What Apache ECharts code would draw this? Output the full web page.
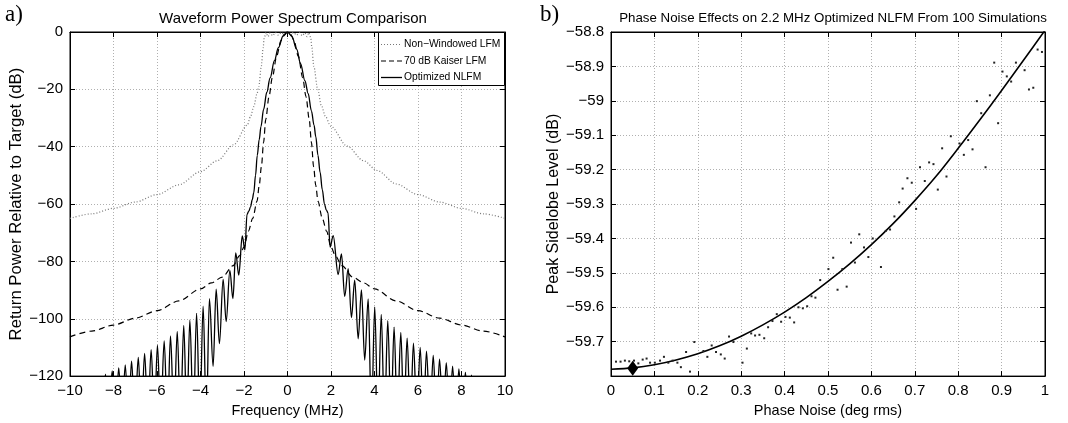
<!DOCTYPE html>
<html>
<head>
<meta charset="utf-8">
<script src="https://cdn.jsdelivr.net/npm/echarts@6/dist/echarts.min.js"></script>
<style>
html,body{margin:0;padding:0;background:#fff;}
#chart{width:1068px;height:423px;}
</style>
</head>
<body>
<div id="chart"></div>
<script>
// ---------- Panel a) Waveform Power Spectrum Comparison ----------
const lfmFreq = [-10,-9,-8,-7,-6,-5,-4,-3.23,-2.47,-1.85,-1.7,-1.55,-1.4,-1.32,-1.21,-1.12,-1.07,-0.98,-0.9,-0.8,-0.68,-0.55,-0.42,-0.28,-0.14,0,0.14,0.28,0.42,0.55,0.68,0.8,0.9,0.98,1.07,1.12,1.21,1.39,1.55,1.75,1.98,2.74,3.5,4.12,5,6,7,8,9,10];
const lfmDb   = [-65,-63.4,-61.5,-59.3,-56.7,-53.3,-48.7,-44.9,-39.3,-32.5,-29.5,-26,-21.5,-19,-12.3,-5.5,-2,-0.2,-1.6,-0.3,-1.3,-0.2,-1.1,-0.2,-0.9,-0.2,-0.9,-0.2,-1.1,-0.2,-1.3,-0.3,-1.6,-0.2,-2,-5.5,-12,-20,-25.5,-29.5,-32.8,-39.8,-44.9,-48.3,-53,-56.7,-59.3,-61.5,-63.4,-65];

const kaiserFreq = [-10,-9,-8,-7,-6,-5,-4,-3.5,-3,-2.5,-2.2,-2,-1.8,-1.6,-1.4,-1.3,-1.2,-1.1,-1,-0.85,-0.7,-0.5,-0.3,-0.15,0,0.15,0.3,0.5,0.7,0.85,1,1.1,1.2,1.3,1.4,1.6,1.8,2,2.2,2.5,3,3.5,4,5,6,7,8,9,10];
const kaiserDb   = [-106.3,-104.3,-102.2,-99.8,-97.2,-93.8,-89.6,-87.5,-85.5,-81.5,-78,-75,-69.5,-65,-59,-53.5,-47,-38.5,-30.5,-22.5,-16,-8.5,-3,-0.8,0,-0.8,-3,-8.5,-16,-22.5,-30.5,-38.5,-47,-53.5,-59,-65,-69.5,-75,-78,-81.5,-85.5,-87.5,-89.6,-93.8,-97.2,-99.8,-102.2,-104.3,-106.3];

const nlfmFreq = [-8.6,-8.52,-8.37,-8.22,-8.06,-7.91,-7.76,-7.61,-7.46,-7.31,-7.17,-7.02,-6.86,-6.72,-6.57,-6.42,-6.27,-6.12,-5.98,-5.83,-5.67,-5.52,-5.38,-5.22,-5.07,-4.92,-4.77,-4.63,-4.49,-4.33,-4.18,-4.03,-3.88,-3.73,-3.59,-3.42,-3.28,-3.13,-2.96,-2.82,-2.65,-2.51,-2.38,-2.24,-2.08,-1.96,-1.86,-1.78,-1.7,-1.62,-1.55,-1.47,-1.39,-1.3,-1.22,-1.1,-0.95,-0.8,-0.6,-0.42,-0.2,0,0.2,0.42,0.6,0.8,0.95,1.1,1.22,1.3,1.4,1.5,1.6,1.7,1.78,1.86,1.96,2.1,2.33,2.48,2.63,2.79,2.94,3.09,3.25,3.4,3.55,3.71,3.86,4.01,4.16,4.31,4.46,4.61,4.76,4.9,5.05,5.21,5.35,5.5,5.65,5.79,5.95,6.1,6.25,6.39,6.55,6.7,6.85,6.99,7.15,7.3,7.45,7.59,7.74,7.88,8.03,8.18,8.32,8.46,8.6];
const nlfmDb   = [-135,-135,-119.3,-135,-118.2,-135,-117.1,-135,-116.1,-135,-114.8,-135,-113.5,-135,-112.1,-135,-110.8,-135,-109.2,-135,-107.7,-135,-106,-135,-104.4,-135,-102.3,-135,-100.5,-135,-98.1,-135,-95.6,-135,-93,-116.6,-89.7,-108.7,-86.3,-101,-83.1,-93,-77,-84.8,-71.1,-76,-63.5,-62.5,-61,-58.5,-56,-50,-43,-37.5,-33,-27,-21,-16,-10,-5.5,-1.4,0,-1.5,-6,-11,-17,-21.5,-27.5,-32.5,-36.5,-43,-49,-55,-60,-62,-63,-75,-71,-84.6,-77.4,-92.2,-82.5,-99.6,-86.5,-107,-89.9,-114.4,-93.1,-135,-95.9,-135,-98.5,-135,-100.7,-135,-102.9,-135,-104.8,-135,-106.8,-135,-108.5,-135,-110,-135,-111.3,-135,-112.8,-135,-114.1,-135,-115.3,-135,-116.5,-135,-117.5,-135,-118.7,-135,-119.7,-135];

const legendNames = ['Non\u2212Windowed LFM', '70 dB Kaiser LFM', 'Optimized NLFM'];

// ---------- Panel b) Phase Noise Effects ----------
const fitPhase = [0,0.05,0.1,0.15,0.2,0.25,0.3,0.35,0.4,0.45,0.5,0.55,0.6,0.65,0.7,0.75,0.8,0.85,0.9,0.95,1.0];
const fitPsl   = [-59.78,-59.776,-59.767,-59.753,-59.735,-59.712,-59.684,-59.651,-59.614,-59.572,-59.525,-59.474,-59.418,-59.357,-59.29,-59.218,-59.138,-59.055,-58.97,-58.883,-58.795];

const simPhase = [0.0115,0.022,0.032,0.042,0.053,0.063,0.073,0.082,0.09,0.101,0.113,0.122,0.132,0.142,0.153,0.161,0.173,0.182,0.192,0.213,0.222,0.232,0.242,0.253,0.262,0.272,0.282,0.303,0.313,0.323,0.332,0.342,0.353,0.362,0.372,0.382,0.392,0.402,0.412,0.422,0.432,0.442,0.452,0.462,0.471,0.482,0.501,0.512,0.522,0.533,0.543,0.553,0.562,0.572,0.583,0.593,0.603,0.622,0.633,0.643,0.653,0.664,0.672,0.683,0.693,0.703,0.712,0.723,0.733,0.743,0.753,0.763,0.773,0.783,0.803,0.813,0.823,0.833,0.843,0.853,0.863,0.873,0.883,0.892,0.902,0.912,0.922,0.933,0.953,0.963,0.973,0.983,0.993];
const simPsl   = [-59.758,-59.758,-59.755,-59.757,-59.755,-59.763,-59.752,-59.749,-59.761,-59.761,-59.755,-59.744,-59.761,-59.755,-59.761,-59.774,-59.73,-59.787,-59.701,-59.727,-59.744,-59.711,-59.73,-59.737,-59.749,-59.685,-59.701,-59.761,-59.72,-59.676,-59.682,-59.68,-59.69,-59.658,-59.64,-59.62,-59.642,-59.628,-59.63,-59.644,-59.6,-59.603,-59.597,-59.568,-59.572,-59.521,-59.489,-59.456,-59.549,-59.489,-59.54,-59.412,-59.47,-59.388,-59.426,-59.454,-59.4,-59.483,-59.378,-59.374,-59.336,-59.295,-59.255,-59.225,-59.238,-59.314,-59.193,-59.233,-59.179,-59.184,-59.258,-59.138,-59.22,-59.103,-59.124,-59.157,-59.114,-59.141,-59.001,-59.036,-59.193,-58.984,-58.889,-59.065,-58.915,-58.929,-58.944,-58.889,-58.911,-58.967,-58.962,-58.851,-58.858];

const markerPhase = [0.05];
const markerPsl = [-59.777];

// ---------- build ----------
const zip = (a, b) => a.map((v, i) => [v, b[i]]);
const MINUS = '\u2212';
const fmt = v => {
  const r = Math.round(v * 10) / 10;
  return r < 0 ? MINUS + String(Math.abs(r)) : String(r);
};
const FONT = 'Liberation Sans';
const gridLine = {show: true, lineStyle: {color: '#b0b0b0', type: [1, 2], width: 1}};

function mainX(grid, min, max, interval, name, nameGap) {
  return {
    gridIndex: grid, type: 'value', min, max, interval, position: 'bottom',
    name, nameLocation: 'middle', nameGap,
    nameTextStyle: {color: '#000', fontSize: 14.5, fontFamily: FONT},
    axisLine: {onZero: false, lineStyle: {color: '#000', width: 1}},
    axisTick: {inside: true, length: 5, lineStyle: {color: '#000'}},
    axisLabel: {color: '#000', fontSize: 15, fontFamily: FONT, margin: 7, formatter: fmt},
    splitLine: gridLine
  };
}
function topX(grid, min, max, interval) {
  return {
    gridIndex: grid, type: 'value', min, max, interval, position: 'top',
    axisLine: {onZero: false, lineStyle: {color: '#000', width: 1}},
    axisTick: {inside: true, length: 5, lineStyle: {color: '#000'}},
    axisLabel: {show: false}, splitLine: {show: false}
  };
}
function mainY(grid, min, max, interval, name, nameGap, showMin, nameSize) {
  return {
    gridIndex: grid, type: 'value', min, max, interval, position: 'left',
    name, nameLocation: 'middle', nameGap,
    nameTextStyle: {color: '#000', fontSize: nameSize, fontFamily: FONT},
    axisLine: {onZero: false, lineStyle: {color: '#000', width: 1}},
    axisTick: {inside: true, length: 5, lineStyle: {color: '#000'}},
    axisLabel: {color: '#000', fontSize: 15, fontFamily: FONT, margin: 7, formatter: fmt, showMinLabel: showMin},
    splitLine: gridLine
  };
}
function rightY(grid, min, max, interval) {
  return {
    gridIndex: grid, type: 'value', min, max, interval, position: 'right',
    axisLine: {onZero: false, lineStyle: {color: '#000', width: 1}},
    axisTick: {inside: true, length: 5, lineStyle: {color: '#000'}},
    axisLabel: {show: false}, splitLine: {show: false}
  };
}

// hand-drawn legend box (line samples only, as in the reference)
const legendStyles = [
  {stroke: '#777', lineWidth: 1.2, lineDash: [1, 2]},
  {stroke: '#000', lineWidth: 1.2, lineDash: [5, 3]},
  {stroke: '#000', lineWidth: 1.3, lineDash: null}
];
const legendGraphics = [
  {type: 'rect', z: 100, shape: {x: 378.5, y: 32.5, width: 126, height: 53},
   style: {fill: '#fff', stroke: '#000', lineWidth: 1}}
];
legendNames.forEach((name, i) => {
  const y = 44.5 + i * 16.5;
  legendGraphics.push({type: 'line', z: 101, shape: {x1: 381, y1: y, x2: 402, y2: y}, style: legendStyles[i]});
  legendGraphics.push({type: 'text', z: 101, x: 404, y: y,
    style: {text: name, font: '10.3px "Liberation Sans"', fill: '#000', verticalAlign: 'middle', textVerticalAlign: 'middle'}});
});

const chart = echarts.init(document.getElementById('chart'), null, {renderer: 'canvas'});
chart.setOption({
  animation: false,
  backgroundColor: '#fff',
  textStyle: {fontFamily: FONT},
  title: [
    {text: 'Waveform Power Spectrum Comparison', left: 288, top: 6, textAlign: 'center',
     textStyle: {fontSize: 15, fontWeight: 'normal', color: '#000', fontFamily: FONT}},
    {text: 'Phase Noise Effects on 2.2 MHz Optimized NLFM From 100 Simulations', left: 828, top: 7, textAlign: 'center',
     textStyle: {fontSize: 13.3, fontWeight: 'normal', color: '#000', fontFamily: FONT}}
  ],
  graphic: [
    {type: 'text', left: 5, top: 3, style: {text: 'a)', font: '23px "Liberation Serif"', fill: '#000'}},
    {type: 'text', left: 540, top: 3, style: {text: 'b)', font: '23px "Liberation Serif"', fill: '#000'}}
  ].concat(legendGraphics),
  grid: [
    {left: 70, top: 32, width: 435, height: 351, show: true, borderColor: '#000', borderWidth: 1, backgroundColor: 'transparent'},
    {left: 611, top: 32, width: 434, height: 351, show: true, borderColor: '#000', borderWidth: 1, backgroundColor: 'transparent'}
  ],
  xAxis: [
    mainX(0, -10, 10, 2, 'Frequency (MHz)', 21),
    topX(0, -10, 10, 2),
    mainX(1, 0, 1, 0.1, 'Phase Noise (deg rms)', 21),
    topX(1, 0, 1, 0.1)
  ],
  yAxis: [
    mainY(0, -120, 0, 20, 'Return Power Relative to Target (dB)', 42, true, 16.7),
    rightY(0, -120, 0, 20),
    mainY(1, -59.8, -58.8, 0.1, 'Peak Sidelobe Level (dB)', 49, false, 16),
    rightY(1, -59.8, -58.8, 0.1)
  ],
  series: [
    {name: legendNames[0], type: 'line', xAxisIndex: 0, yAxisIndex: 0, data: zip(lfmFreq, lfmDb),
     showSymbol: false, symbol: 'none', smooth: 0.3, smoothMonotone: 'x', clip: true,
     lineStyle: {color: '#777', width: 1.2, type: [1, 2]}, itemStyle: {color: '#777'}, z: 2},
    {name: legendNames[1], type: 'line', xAxisIndex: 0, yAxisIndex: 0, data: zip(kaiserFreq, kaiserDb),
     showSymbol: false, symbol: 'none', smooth: 0.3, smoothMonotone: 'x', clip: true,
     lineStyle: {color: '#000', width: 1.2, type: [6, 4]}, itemStyle: {color: '#000'}, z: 3},
    {name: legendNames[2], type: 'line', xAxisIndex: 0, yAxisIndex: 0, data: zip(nlfmFreq, nlfmDb),
     showSymbol: false, symbol: 'none', smooth: 0.35, smoothMonotone: 'x', clip: true,
     lineStyle: {color: '#000', width: 1.3}, itemStyle: {color: '#000'}, z: 4},
    {name: 'fit', type: 'line', xAxisIndex: 2, yAxisIndex: 2, data: zip(fitPhase, fitPsl),
     showSymbol: false, symbol: 'none', smooth: 0.3, clip: true,
     lineStyle: {color: '#000', width: 1.6}, z: 3},
    {name: 'sims', type: 'scatter', xAxisIndex: 2, yAxisIndex: 2, data: zip(simPhase, simPsl),
     symbol: 'rect', symbolSize: 2, itemStyle: {color: '#222', opacity: 1}, z: 4},
    {name: 'marker', type: 'scatter', xAxisIndex: 2, yAxisIndex: 2, data: zip(markerPhase, markerPsl),
     symbol: 'diamond', symbolSize: [11, 15], itemStyle: {color: '#000', opacity: 1}, z: 5}
  ]
});
</script>
</body>
</html>
